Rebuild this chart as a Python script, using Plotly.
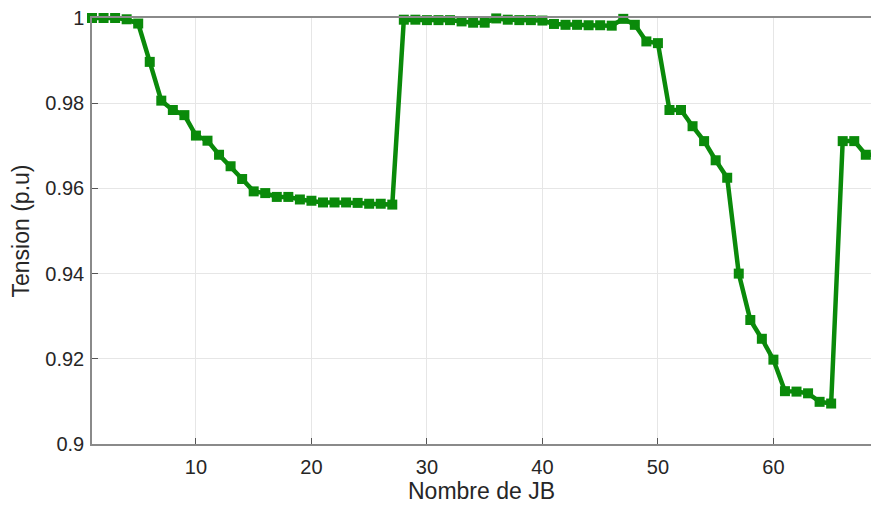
import plotly.graph_objects as go

# Bus voltage profile along the feeder
bus = list(range(1, 70))
tension = [
    1.0000, 1.0000, 1.0000, 0.9997, 0.9987, 0.9897, 0.9806, 0.9784, 0.9772, 0.9724,
    0.9712, 0.9679, 0.9652, 0.9622, 0.9593, 0.9589, 0.9580, 0.9580, 0.9574, 0.9571,
    0.9567, 0.9567, 0.9567, 0.9566, 0.9564, 0.9564, 0.9562, 0.9996, 0.9996, 0.9995,
    0.9995, 0.9995, 0.9992, 0.9989, 0.9989, 0.9999, 0.9996, 0.9995, 0.9995, 0.9994,
    0.9986, 0.9984, 0.9984, 0.9983, 0.9983, 0.9982, 0.9998, 0.9984, 0.9945, 0.9941,
    0.9784, 0.9784, 0.9746, 0.9711, 0.9666, 0.9625, 0.9400, 0.9291, 0.9247, 0.9198,
    0.9124, 0.9123, 0.9119, 0.9099, 0.9095, 0.9711, 0.9711, 0.9679, 0.9679,
]
x_ticks = [10, 20, 30, 40, 50, 60]
y_ticks = [0.9, 0.92, 0.94, 0.96, 0.98, 1.0]
y_labels = ["0.9", "0.92", "0.94", "0.96", "0.98", "1"]

green = "#0a8a0a"

fig = go.Figure(
    go.Scatter(
        x=bus,
        y=tension,
        mode="lines+markers",
        line=dict(color=green, width=4.5),
        marker=dict(symbol="square", size=10, color=green),
        cliponaxis=False,
        showlegend=False,
    )
)

family = "Liberation Sans, Arial, sans-serif"
tick_font = dict(family=family, size=20, color="#262626")
title_font = dict(family=family, size=23, color="#262626")

fig.update_layout(
    width=871,
    height=510,
    margin=dict(l=92, r=0, t=18, b=66),
    paper_bgcolor="white",
    plot_bgcolor="white",
)
fig.update_xaxes(
    range=[1, 68.45],
    tickvals=x_ticks,
    ticks="inside",
    ticklen=6,
    tickcolor="#555555",
    showgrid=True,
    gridcolor="#e6e6e6",
    gridwidth=1,
    showline=True,
    linecolor="#8a8a8a",
    linewidth=1.5,
    mirror=True,
    zeroline=False,
    ticklabelstandoff=4,
    title=dict(text="Nombre de JB", standoff=6, font=title_font),
    tickfont=tick_font,
)
fig.update_yaxes(
    range=[0.9, 1.0],
    tickvals=y_ticks,
    ticktext=y_labels,
    ticks="inside",
    ticklen=6,
    tickcolor="#555555",
    showgrid=True,
    gridcolor="#e6e6e6",
    gridwidth=1,
    showline=True,
    linecolor="#8a8a8a",
    linewidth=1.5,
    mirror=False,
    zeroline=False,
    ticklabelstandoff=2,
    title=dict(text="Tension (p.u)", standoff=9, font=title_font),
    tickfont=tick_font,
)

fig.write_html("out.html")
